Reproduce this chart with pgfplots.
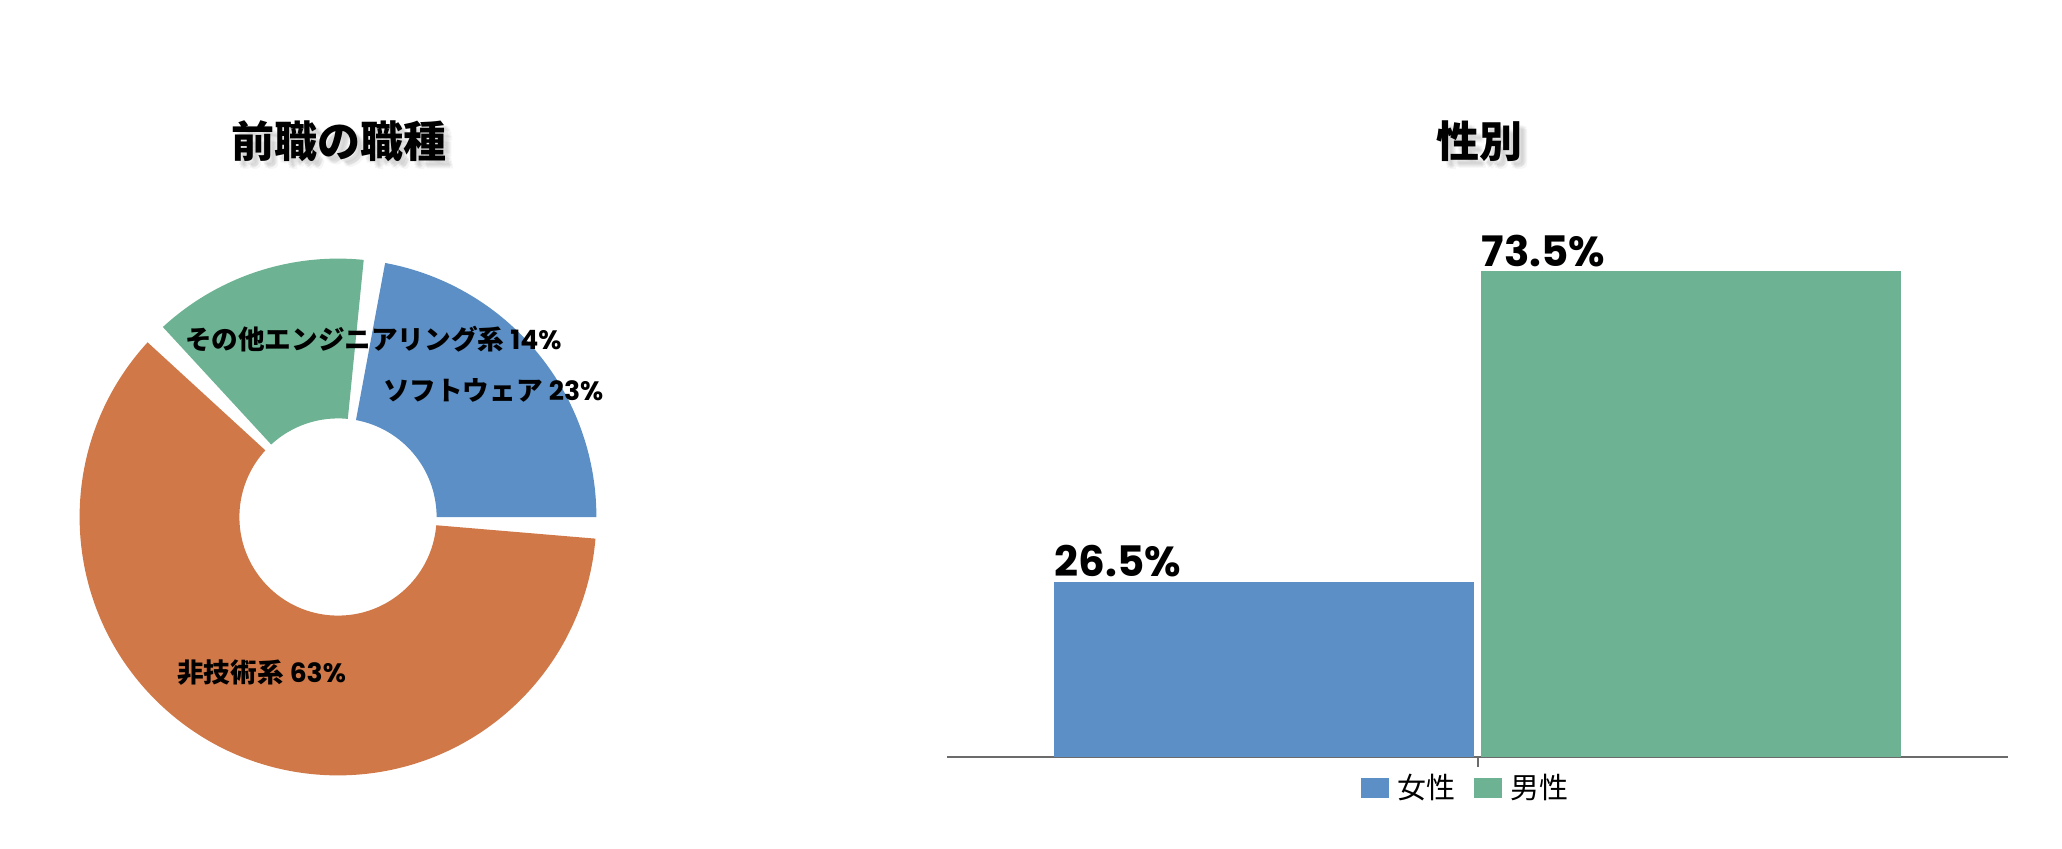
\documentclass[border=0pt]{standalone}
\usepackage{fontspec}
\usepackage{pgfplots}
\usepackage{pgfplotstable}
\pgfplotsset{compat=1.18}
\setmainfont{Noto Sans CJK JP}
\newfontfamily\pop{Poppins}

\definecolor{cblue}{HTML}{5B8FC5}
\definecolor{corange}{HTML}{D07848}
\definecolor{cgreen}{HTML}{6DB292}

\pgfplotstableread{
pct
23
14
63
}\piedata

\pgfplotstablegetelem{0}{pct}\of\piedata\edef\pA{\pgfplotsretval}
\pgfplotstablegetelem{1}{pct}\of\piedata\edef\pB{\pgfplotsretval}
\pgfplotstablegetelem{2}{pct}\of\piedata\edef\pC{\pgfplotsretval}

\pgfmathsetmacro\gap{4.8}
\pgfmathsetmacro\tot{360-3*\gap}
\pgfmathsetmacro\sA{0}
\pgfmathsetmacro\eA{\sA+\pA/100*\tot}
\pgfmathsetmacro\sB{\eA+\gap}
\pgfmathsetmacro\eB{\sB+\pB/100*\tot}
\pgfmathsetmacro\sC{\eB+\gap}
\pgfmathsetmacro\eC{\sC+\pC/100*\tot}
\def\Ro{129.2}
\def\Ri{49.3}

\newcommand\sector[3]{%
  \fill[#3] (axis cs:{\Ro*cos(#1)},{\Ro*sin(#1)}) arc[start angle=#1,end angle=#2,radius=\Ro pt]
    -- (axis cs:{\Ri*cos(#2)},{\Ri*sin(#2)}) arc[start angle=#2,end angle=#1,radius=\Ri pt] -- cycle;}

\newcommand\shadowtitle[2]{%
  \foreach \dx/\dy in {2/-2,3/-3,4/-4,3.5/-2.5,2.5/-3.5}{
    \node[text=black,opacity=0.035,font=\fontsize{21.5}{21.5}\selectfont\bfseries] at ([xshift=\dx pt,yshift=\dy pt]#1) {#2};}
  \node[font=\fontsize{21.5}{21.5}\selectfont\bfseries] at (#1) {#2};}

\begin{document}
\begin{tikzpicture}
\useasboundingbox (0,0) rectangle (1031pt,424pt);

\begin{axis}[at={(0pt,0pt)}, anchor=south west, x=1pt, y=1pt,
  xmin=-169, xmax=862, ymin=-165.5, ymax=258.5, hide axis, clip=false]
  \sector{\sA}{\eA}{cblue}
  \sector{\sB}{\eB}{cgreen}
  \sector{\sC}{\eC}{corange}
  \node[font=\fontsize{13.3}{13.3}\selectfont\bfseries] at (axis cs:17.7,89) {その他エンジニアリング系 {\pop\bfseries 14\%}};
  \node[font=\fontsize{13.3}{13.3}\selectfont\bfseries] at (axis cs:77.6,63.2) {ソフトウェア {\pop\bfseries 23\%}};
  \node[font=\fontsize{13.3}{13.3}\selectfont\bfseries] at (axis cs:-38.2,-78) {非技術系 {\pop\bfseries 63\%}};
\end{axis}

\shadowtitle{169.6pt,353.6pt}{前職の職種}
\shadowtitle{739.7pt,353.6pt}{性別}

\begin{axis}[at={(473.5pt,45.5pt)}, anchor=south west,
  x=265.25pt, y=3.305pt, xmin=-1, xmax=1, ymin=0, ymax=80,
  axis x line*=bottom, axis y line=none,
  x axis line style={-, draw=black!58, line width=1pt},
  ybar, bar width=0.79, clip=false,
  xtick={0}, xticklabels={}, tick align=outside, major tick length=5pt,
  every tick/.style={draw=black!58, line width=1pt},
  nodes near coords={\pgfmathprintnumber[fixed,fixed zerofill,precision=1,assume math mode=true]{\pgfplotspointmeta}\%},
  every node near coord/.append style={anchor=south west, xshift=-104.8pt, yshift=2pt, inner sep=0pt,
    font=\pop\bfseries\fontsize{21}{21}\selectfont, text=black},
  legend style={at={(0.49,-0.0586)}, anchor=center, legend columns=2, draw=none, fill=none,
    font=\fontsize{14.5}{14.5}\selectfont,
    /tikz/every odd column/.append style={column sep=2.5pt},
    /tikz/every even column/.append style={column sep=7pt}},
]
\addplot[fill=cblue, draw=none, bar shift=0pt,
  legend image code/.code={\fill[cblue] (0pt,-5pt) rectangle (14pt,5pt);}] coordinates {(-0.4025,26.5)};
\addplot[fill=cgreen, draw=none, bar shift=0pt,
  legend image code/.code={\fill[cgreen] (0pt,-5pt) rectangle (14pt,5pt);}] coordinates {(0.4025,73.5)};
\legend{女性,男性}
\end{axis}
\end{tikzpicture}
\end{document}
